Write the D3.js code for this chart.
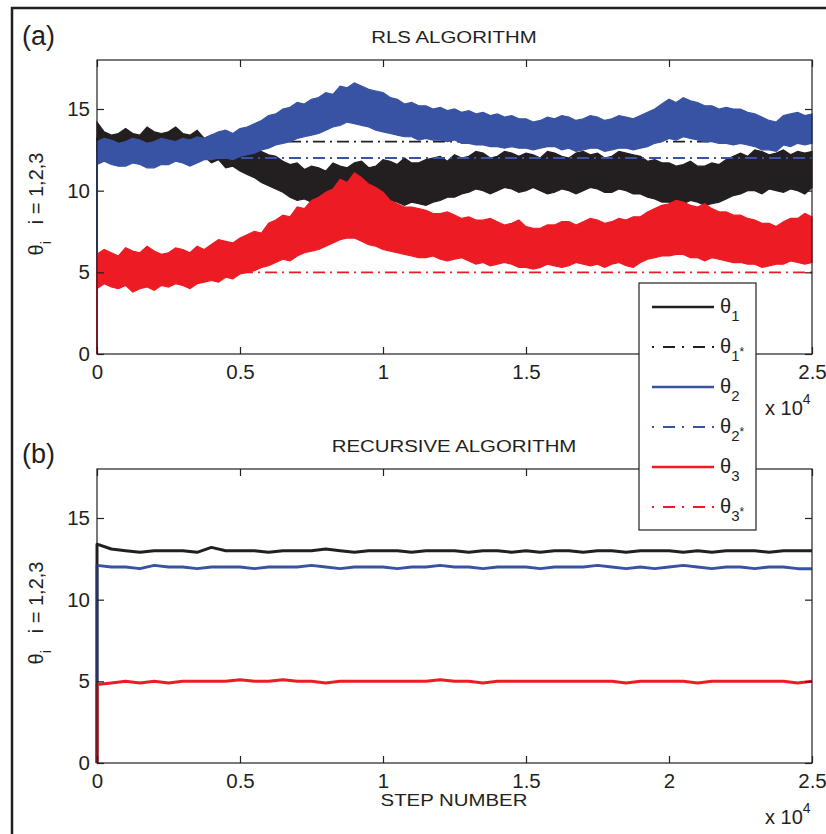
<!DOCTYPE html>
<html>
<head>
<meta charset="utf-8">
<script src="https://cdn.jsdelivr.net/npm/d3@7"></script>
<style>
  body { margin: 0; background: #fff; }
  svg { display: block; }
  text { font-family: "Liberation Sans", Arial, Helvetica, sans-serif; fill: #231f20; white-space: pre; }
</style>
</head>
<body>
<svg id="fig" width="826" height="834"></svg>
<script>
// step number, in units of 10^4
// (a) sampled every 250 steps, (b) every 500 steps
const stepFine = d3.range(0, 101).map(i => +(i * 0.025).toFixed(3));
const stepCoarse = d3.range(0, 51).map(i => +(i * 0.05).toFixed(2));
const xTicks = [0, 0.5, 1, 1.5, 2, 2.5];
const xTickLabels = ['0', '0.5', '1', '1.5', '2', '2.5'];
const yTicks = [0, 5, 10, 15];
const initValue = 0;

// (a) RLS estimates: lower / upper edge of the noisy band
const rlsTheta1Hi = [
  14.2,13.6,13.4,13.5,13.8,13.5,13.4,13.9,13.6,13.5,
  13.6,13.9,13.5,13.4,13.7,13.2,13.4,13.3,12.9,13.1,
  13.0,12.6,12.8,12.4,12.2,12.1,11.8,11.6,11.7,11.3,
  11.5,11.4,11.2,11.7,11.5,11.4,11.7,11.8,11.4,11.5,
  11.9,11.8,11.6,12.0,11.7,11.7,11.9,12.0,12.1,11.8,
  12.2,12.0,12.1,12.4,12.3,12.0,12.1,12.4,12.3,12.1,
  12.3,12.2,12.0,12.4,12.3,12.1,12.0,12.3,12.4,12.2,
  12.3,12.0,12.1,12.4,12.3,12.2,12.1,11.8,11.9,11.7,
  11.7,11.5,11.6,11.8,11.5,11.5,11.7,11.6,11.9,12.1,
  12.3,12.1,12.5,12.4,12.2,12.3,12.5,12.2,12.4,12.3,
  12.4];
const rlsTheta1Lo = [
  12.3,12.5,12.3,12.4,12.5,12.2,12.4,12.3,12.2,12.4,
  12.2,12.3,12.1,12.2,12.0,12.1,11.7,11.9,11.4,11.5,
  11.2,11.0,10.8,10.5,10.3,10.1,9.9,9.6,9.4,9.5,
  9.3,9.6,9.5,9.3,9.2,9.4,9.2,9.0,9.3,9.1,
  9.2,9.4,9.3,9.1,9.3,9.2,9.1,9.3,9.4,9.6,
  9.6,9.8,9.9,10.1,10.0,9.8,10.0,10.2,10.1,9.9,
  10.0,10.2,10.0,9.8,9.9,10.1,10.0,9.8,10.0,10.2,
  10.1,9.9,9.9,10.1,10.0,9.8,9.8,9.6,9.5,9.3,
  9.3,9.1,9.2,9.4,9.3,9.1,9.2,9.3,9.5,9.7,
  9.8,10.0,10.0,9.8,10.1,10.0,9.9,10.1,10.0,9.8,
  10.2];
const rlsTheta2Hi = [
  13.0,13.2,13.1,12.9,13.0,13.2,13.1,12.9,13.0,13.2,
  13.1,13.0,13.2,13.1,13.3,13.2,13.4,13.6,13.7,13.5,
  13.8,13.9,14.1,14.3,14.6,14.7,15.0,15.1,15.4,15.3,
  15.6,15.7,16.0,15.9,16.4,16.3,16.6,16.4,16.2,16.1,
  16.0,15.7,15.6,15.3,15.4,15.2,15.2,15.0,15.1,14.9,
  15.0,14.8,14.9,14.7,14.8,14.6,14.7,14.5,14.6,14.4,
  14.4,14.2,14.3,14.5,14.4,14.6,14.5,14.3,14.4,14.6,
  14.5,14.3,14.4,14.6,14.5,14.4,14.6,14.8,15.0,15.3,
  15.6,15.4,15.7,15.5,15.4,15.2,15.2,15.0,15.1,15.0,
  15.0,14.8,14.7,14.5,14.3,14.2,14.6,14.7,14.8,14.6,
  14.7];
const rlsTheta2Lo = [
  11.6,11.8,11.6,11.5,11.5,11.7,11.6,11.4,11.4,11.6,
  11.6,11.8,11.7,11.5,11.7,11.9,11.9,12.0,12.0,11.9,
  12.1,12.2,12.3,12.5,12.6,12.8,12.9,13.0,13.2,13.3,
  13.4,13.5,13.7,13.9,14.0,14.2,14.1,14.0,13.9,13.7,
  13.6,13.5,13.4,13.3,13.3,13.1,13.2,13.1,13.1,13.0,
  13.1,12.9,12.9,12.8,12.8,12.7,12.7,12.6,12.7,12.6,
  12.6,12.5,12.6,12.7,12.7,12.5,12.6,12.4,12.5,12.6,
  12.6,12.4,12.5,12.6,12.6,12.5,12.6,12.7,12.9,13.0,
  13.2,13.1,13.3,13.2,13.1,13.0,13.0,12.9,12.9,12.8,
  12.9,12.8,12.7,12.5,12.5,12.4,12.8,12.7,12.9,12.8,
  12.9];
const rlsTheta3Hi = [
  6.1,6.4,6.2,6.0,6.5,6.3,6.2,6.6,6.3,6.1,
  6.2,6.5,6.4,6.2,6.6,6.4,6.7,7.0,6.9,6.8,
  7.1,7.3,7.5,7.4,8.0,8.2,8.5,8.4,9.0,8.9,
  9.4,9.6,9.9,10.1,10.7,10.5,11.1,10.8,10.4,10.2,
  9.9,9.4,9.2,9.0,9.0,8.9,8.8,8.6,8.6,8.7,
  8.5,8.3,8.4,8.2,8.2,8.3,8.1,7.9,8.0,8.2,
  7.8,7.7,7.7,7.9,7.9,8.1,8.1,7.9,8.1,8.3,
  8.2,8.0,8.1,8.3,8.2,8.4,8.4,8.7,8.9,9.1,
  9.2,9.4,9.3,9.1,9.0,9.2,8.9,8.7,8.7,8.5,
  8.5,8.3,8.2,8.0,8.0,7.8,8.1,8.3,8.3,8.6,
  8.4];
const rlsTheta3Lo = [
  4.0,4.3,4.1,4.0,4.2,3.8,4.0,4.1,3.9,4.2,
  4.1,4.3,4.2,4.0,4.3,4.4,4.5,4.4,4.7,4.6,
  4.9,5.0,5.1,5.3,5.4,5.6,5.8,5.7,6.0,6.2,
  6.3,6.4,6.6,6.8,7.0,7.1,7.1,6.9,6.7,6.6,
  6.4,6.3,6.2,6.1,6.0,5.9,5.9,6.0,5.8,5.7,
  5.8,5.9,5.7,5.5,5.6,5.4,5.5,5.6,5.5,5.3,
  5.3,5.2,5.3,5.5,5.4,5.3,5.4,5.6,5.5,5.4,
  5.5,5.3,5.5,5.6,5.4,5.3,5.6,5.8,5.9,6.0,
  6.0,6.1,6.1,5.9,5.9,5.7,5.9,5.8,5.7,5.6,
  5.6,5.5,5.5,5.3,5.4,5.5,5.5,5.7,5.6,5.5,
  5.6];

// true parameter values
const theta1Star = 13;
const theta2Star = 12;
const theta3Star = 5;

// (b) recursive estimates
const recTheta1 = [13.4,13.1,13.0,12.9,13.0,13.0,13.0,12.9,13.2,13.0,13.0,13.0,12.9,13.0,13.0,13.0,13.1,13.0,12.9,13.0,13.0,13.0,12.9,13.0,13.0,13.0,12.9,13.0,13.0,12.9,13.0,12.9,13.0,13.0,12.9,13.0,13.0,12.9,13.0,13.0,13.0,12.9,13.0,12.9,13.0,13.0,13.0,12.9,13.0,13.0,13.0];
const recTheta2 = [12.1,12.0,12.0,11.9,12.1,12.0,12.0,11.9,12.0,12.0,12.0,11.9,12.0,12.0,12.0,12.1,12.0,11.9,12.0,12.0,12.0,11.9,12.0,12.0,12.1,12.0,12.0,11.9,12.0,12.0,12.0,11.9,12.0,12.0,12.0,12.1,12.0,11.9,12.0,11.9,12.0,12.1,12.0,11.9,12.0,12.0,11.9,12.0,12.0,11.9,11.9];
const recTheta3 = [4.8,4.9,5.0,4.9,5.0,4.9,5.0,5.0,5.0,5.0,5.1,5.0,5.0,5.1,5.0,5.0,4.9,5.0,5.0,5.0,5.0,5.0,5.0,5.0,5.1,5.0,5.0,4.9,5.0,5.0,5.0,5.0,5.0,5.0,5.0,5.0,5.0,4.9,5.0,5.0,5.0,5.0,4.9,5.0,5.0,5.0,5.0,5.0,5.0,4.9,5.0];

const legendSubs = ['1', '1', '2', '2', '3', '3'];
const legendStar = [false, true, false, true, false, true];

const ink = '#231f20';
const colors = ['#231f20', '#3953a4', '#ed1c24'];

const svg = d3.select('#fig');

// outer frame
svg.append('rect')
  .attr('x', 12).attr('y', 8)
  .attr('width', 900).attr('height', 900)
  .attr('fill', 'none').attr('stroke', ink).attr('stroke-width', 2.5);

const x = d3.scaleLinear().domain([0, 2.5]).range([97, 812]);

function drawPanel(top, bottom, title, titleY, letter, letterY, drawData) {
  const y = d3.scaleLinear().domain([0, 18]).range([bottom, top]);
  const g = svg.append('g');

  drawData(g, y);

  g.append('rect')
    .attr('x', x(0)).attr('y', top)
    .attr('width', x(2.5) - x(0)).attr('height', bottom - top)
    .attr('fill', 'none').attr('stroke', ink).attr('stroke-width', 1.2);

  const fmt = (d, i) => xTickLabels[i];
  const ax = [
    g.append('g').attr('transform', 'translate(0,' + bottom + ')')
      .call(d3.axisBottom(x).tickValues(xTicks).tickFormat(fmt).tickSizeInner(-7).tickSizeOuter(0).tickPadding(10)),
    g.append('g').attr('transform', 'translate(0,' + top + ')')
      .call(d3.axisTop(x).tickValues(xTicks).tickFormat('').tickSizeInner(-7).tickSizeOuter(0)),
    g.append('g').attr('transform', 'translate(' + x(0) + ',0)')
      .call(d3.axisLeft(y).tickValues(yTicks).tickSizeInner(-7).tickSizeOuter(0).tickPadding(7)),
    g.append('g').attr('transform', 'translate(' + x(2.5) + ',0)')
      .call(d3.axisRight(y).tickValues(yTicks).tickFormat('').tickSizeInner(-7).tickSizeOuter(0))
  ];
  ax.forEach(a => {
    a.select('.domain').remove();
    a.selectAll('line').attr('stroke', ink).attr('stroke-width', 1.2);
    a.selectAll('text').attr('font-size', 20.5).attr('fill', ink)
      .style('font-family', '"Liberation Sans", Arial, sans-serif');
  });

  // titles
  g.append('text')
    .attr('transform', 'translate(454,' + titleY + ') scale(1.2,1)')
    .attr('text-anchor', 'middle').attr('font-size', 17)
    .text(title);

  g.append('text')
    .attr('x', 22).attr('y', letterY)
    .attr('font-size', 27)
    .text(letter);

  // y label
  const yl = g.append('text')
    .attr('transform', 'translate(43,' + ((top + bottom) / 2 - 3) + ') rotate(-90)')
    .attr('text-anchor', 'middle').attr('font-size', 20);
  yl.append('tspan').text('θ');
  yl.append('tspan').attr('font-size', 15).attr('dy', 8).text('i');
  yl.append('tspan').attr('dy', -8).text('   i = 1,2,3');

  // x 10^4
  const xm = g.append('text')
    .attr('x', 765).attr('y', bottom + 61).attr('font-size', 20);
  xm.append('tspan').text('x 10');
  xm.append('tspan').attr('font-size', 14).attr('dy', -11).text('4');

  return y;
}

function bandData(lo, hi) {
  return stepFine.map((s, i) => ({ s: s, lo: lo[i], hi: hi[i] }));
}

function starLine(g, y, v, color) {
  const line = d3.line().x(d => x(d)).y(() => y(v));
  g.append('path')
    .attr('d', line([0, 2.5]))
    .attr('fill', 'none').attr('stroke', color).attr('stroke-width', 1.8)
    .attr('stroke-dasharray', '12,5,2,5');
}

// (a) RLS
drawPanel(60, 354, 'RLS ALGORITHM', 43, '(a)', 45, function (g, y) {
  const area = d3.area().x(d => x(d.s)).y0(d => y(d.lo)).y1(d => y(d.hi));
  const bands = [
    [rlsTheta1Lo, rlsTheta1Hi, theta1Star],
    [rlsTheta2Lo, rlsTheta2Hi, theta2Star],
    [rlsTheta3Lo, rlsTheta3Hi, theta3Star]
  ];
  bands.forEach(function (b, k) {
    const c = colors[k];
    g.append('path')
      .attr('d', d3.line()([[x(0), y(initValue)], [x(0), y((b[0][0] + b[1][0]) / 2)]]))
      .attr('stroke', c).attr('stroke-width', 2);
    g.append('path')
      .attr('d', area(bandData(b[0], b[1])))
      .attr('fill', c).attr('stroke', c).attr('stroke-width', 1.2)
      .attr('stroke-linejoin', 'miter');
    starLine(g, y, b[2], c);
  });
});

// (b) recursive
drawPanel(469, 763, 'RECURSIVE ALGORITHM', 452, '(b)', 463, function (g, y) {
  const line = d3.line().x(d => x(d[0])).y(d => y(d[1]));
  [recTheta1, recTheta2, recTheta3].forEach(function (vals, k) {
    const pts = [[0, initValue]].concat(stepCoarse.map((s, i) => [s, vals[i]]));
    g.append('path')
      .attr('d', line(pts))
      .attr('fill', 'none').attr('stroke', colors[k]).attr('stroke-width', 3)
      .attr('stroke-linejoin', 'round');
  });
});

// x-axis label
svg.append('text')
  .attr('transform', 'translate(454,806) scale(1.2,1)')
  .attr('text-anchor', 'middle').attr('font-size', 17)
  .text('STEP NUMBER');

// legend
const leg = svg.append('g');
leg.append('rect')
  .attr('x', 639).attr('y', 283).attr('width', 117).attr('height', 247)
  .attr('fill', '#fff').attr('stroke', ink).attr('stroke-width', 1.2);

legendSubs.forEach(function (sub, i) {
  const ly = 307 + 40 * i;
  const c = colors[Math.floor(i / 2)];
  leg.append('line')
    .attr('x1', 652).attr('x2', 714).attr('y1', ly).attr('y2', ly)
    .attr('stroke', c).attr('stroke-width', legendStar[i] ? 2 : 2.6)
    .attr('stroke-dasharray', legendStar[i] ? '2,9,12,7' : null);
  const t = leg.append('text').attr('x', 720).attr('y', ly + 6).attr('font-size', 20);
  t.append('tspan').text('θ');
  t.append('tspan').attr('font-size', 15).attr('dy', 8).text(sub);
  if (legendStar[i]) {
    t.append('tspan').attr('font-size', 12).attr('dy', -5).text('*');
  }
});
</script>
</body>
</html>
